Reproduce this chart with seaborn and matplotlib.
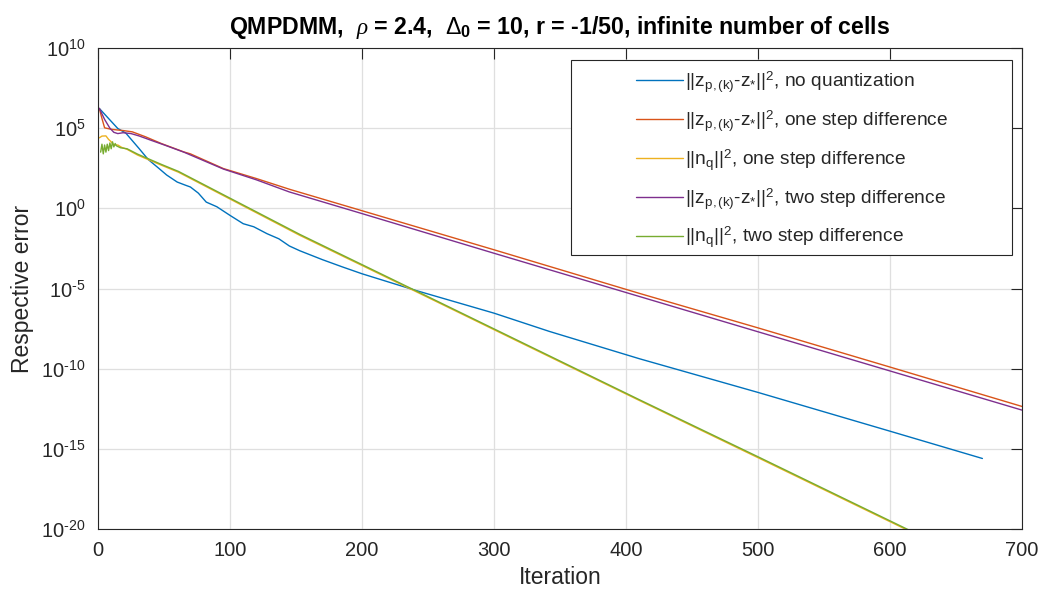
import numpy as np
import pandas as pd
import seaborn as sns
import matplotlib
matplotlib.use("Agg")
import matplotlib.pyplot as plt
from matplotlib.patches import Rectangle

# ---------------- data ----------------
blue_iter = [1, 15, 21, 31, 38, 46, 52, 60, 66, 70, 76, 82, 90, 100, 110, 118, 128, 137,
             145, 153, 170, 185, 200, 240, 300, 342, 410, 500, 600, 670]
blue_err = [1.7e6, 9.5e4, 5.0e4, 5.5e3, 1.12e3, 316, 120, 43.6, 28.2, 21.4, 8.9, 2.45, 1.26,
            0.363, 0.11, 0.0708, 0.0263, 0.0126, 4.47e-3, 2.24e-3, 6.3e-4, 2.24e-4, 8.3e-5,
            7.9e-6, 2.9e-7, 2.1e-8, 4.2e-10, 3.3e-12, 1.26e-14, 2.5e-16]

orange_iter = [1, 3, 5, 10, 19, 26, 36, 48, 65, 70, 95, 120, 145, 200, 300, 410, 500, 600, 700]
orange_err = [1.7e6, 4.0e5, 1.05e5, 8.5e4, 7.1e4, 5.9e4, 2.9e4, 1.1e4, 3.3e3, 2.5e3, 302, 72,
              15.5, 0.71, 2.6e-3, 5.0e-6, 3.5e-8, 1.26e-10, 4.4e-13]

yellow_iter = [1, 3, 6, 8, 10, 12, 15, 18, 22, 30, 48, 61, 100, 153, 239, 317, 410, 500, 614]
yellow_err = [2.5e4, 3.2e4, 3.3e4, 2.0e4, 1.41e4, 8.9e3, 8.9e3, 6.3e3, 4.8e3, 2.1e3, 490, 178,
              3.8, 0.0204, 7.6e-6, 5.6e-9, 1.05e-12, 2.8e-16, 7.9e-21]

purple_iter = [1, 5, 9, 12, 15, 19, 25, 31, 41, 50, 65, 95, 120, 145, 200, 300, 410, 500, 600, 700]
purple_err = [1.7e6, 3.5e5, 1.0e5, 5.5e4, 4.6e4, 5.2e4, 4.6e4, 3.3e4, 1.66e4, 9.1e3, 3.2e3, 282,
              60, 10.5, 0.47, 1.58e-3, 3.2e-6, 2.0e-8, 7.2e-11, 2.6e-13]

green_iter = [2, 3, 4, 5, 6, 7, 8, 9, 10, 11, 12, 13, 14, 17, 22, 30, 48, 61, 100, 153, 239,
              317, 410, 500, 614]
green_err = [3.2e3, 1.0e4, 2.5e3, 8.9e3, 3.2e3, 1.0e4, 4.0e3, 1.2e4, 5.2e3, 1.41e4, 6.8e3, 1.1e4,
             7.9e3, 6.0e3, 5.2e3, 2.4e3, 550, 200, 4.3, 0.0234, 8.5e-6, 6.3e-9, 1.17e-12, 3.2e-16,
             8.9e-21]

labels = [
    r'$||\mathrm{z}_{\mathrm{p,(k)}}$-$\mathrm{z}_{*}||^{2}$, no quantization',
    r'$||\mathrm{z}_{\mathrm{p,(k)}}$-$\mathrm{z}_{*}||^{2}$, one step difference',
    r'$||\mathrm{n}_{\mathrm{q}}||^{2}$, one step difference',
    r'$||\mathrm{z}_{\mathrm{p,(k)}}$-$\mathrm{z}_{*}||^{2}$, two step difference',
    r'$||\mathrm{n}_{\mathrm{q}}||^{2}$, two step difference',
]
colors = ['#0072BD', '#D95319', '#EDB120', '#7E2F8E', '#77AC30']

x_ticks = [0, 100, 200, 300, 400, 500, 600, 700]
y_ticks = [1e-20, 1e-15, 1e-10, 1e-5, 1e0, 1e5, 1e10]
y_tick_labels = ['$\\mathregular{10^{\u201020}}$', '$\\mathregular{10^{\u201015}}$',
                 '$\\mathregular{10^{\u201010}}$', '$\\mathregular{10^{\u20105}}$',
                 r'$\mathregular{10^{0}}$', r'$\mathregular{10^{5}}$', r'$\mathregular{10^{10}}$']

title = r'QMPDMM,  $\rho$ = 2.4,  $\Delta_{\mathbf{0}}$ = 10, r = -1/50, infinite number of cells'

# ---------------- build long table ----------------
series = [(blue_iter, blue_err), (orange_iter, orange_err), (yellow_iter, yellow_err),
          (purple_iter, purple_err), (green_iter, green_err)]
frames = []
for lab, (it, er) in zip(labels, series):
    frames.append(pd.DataFrame({'Iteration': it, 'err': er, 'series': lab}))
df = pd.concat(frames, ignore_index=True)

# ---------------- style ----------------
sns.set_style('white')
plt.rcParams['font.family'] = ['Liberation Sans', 'DejaVu Sans']
plt.rcParams['mathtext.fontset'] = 'custom'
plt.rcParams['mathtext.rm'] = 'Liberation Sans'
plt.rcParams['mathtext.it'] = 'Liberation Serif:italic'
plt.rcParams['mathtext.bf'] = 'Liberation Sans:bold'

axc = '#262626'
fig = plt.figure(figsize=(10.45, 5.95), dpi=100)
ax = fig.add_axes([98 / 1045, 1 - 529 / 595, (1022 - 98) / 1045, (529 - 48) / 595])

sns.lineplot(data=df, x='Iteration', y='err', hue='series', hue_order=labels,
             palette=dict(zip(labels, colors)), estimator=None, sort=True,
             linewidth=1.0, ax=ax, legend=True)

ax.set_yscale('log')
ax.set_xlim(0, 700)
ax.set_ylim(1e-20, 1e10)
ax.set_xticks(x_ticks)
ax.set_xticklabels([str(v) for v in x_ticks])
ax.set_yticks(y_ticks)
ax.set_yticklabels(y_tick_labels)
ax.minorticks_off()
ax.yaxis.set_minor_locator(matplotlib.ticker.NullLocator())

ax.grid(True, color='#dfdfdf', linewidth=0.9)
ax.set_axisbelow(True)
for s in ax.spines.values():
    s.set_visible(True)
    s.set_color(axc)
    s.set_linewidth(0.8)
ax.tick_params(axis='both', direction='in', length=8, width=0.8, color=axc,
               labelcolor=axc, labelsize=14.5, top=True, right=True, pad=9)

ax.set_xlabel('Iteration', fontsize=16.5, color=axc, labelpad=4)
ax.set_ylabel('Respective error', fontsize=16.5, color=axc, labelpad=5)
ax.set_title(title, fontsize=16.7, fontweight='bold', color='black', pad=10)

# legend: box drawn as a patch, entries placed inside
handles, _ = ax.get_legend_handles_labels()
if ax.get_legend() is not None:
    ax.get_legend().remove()
box = Rectangle((571 / 1045, 1 - 255 / 595), (1012 - 571) / 1045, (255 - 60) / 595,
                transform=fig.transFigure, facecolor='white', edgecolor=axc,
                linewidth=0.8, zorder=5, clip_on=False)
ax.add_patch(box)
leg = ax.legend(handles, labels, loc='center left',
                bbox_to_anchor=(626 / 1045, 1 - 160 / 595),
                bbox_transform=fig.transFigure, frameon=False, fontsize=13.8,
                handlelength=2.45, handletextpad=0.15, labelspacing=0.71, borderpad=0)
leg.set_zorder(6)
for t in leg.get_texts():
    t.set_color(axc)

fig.savefig('out.png', dpi=100, facecolor='white')
